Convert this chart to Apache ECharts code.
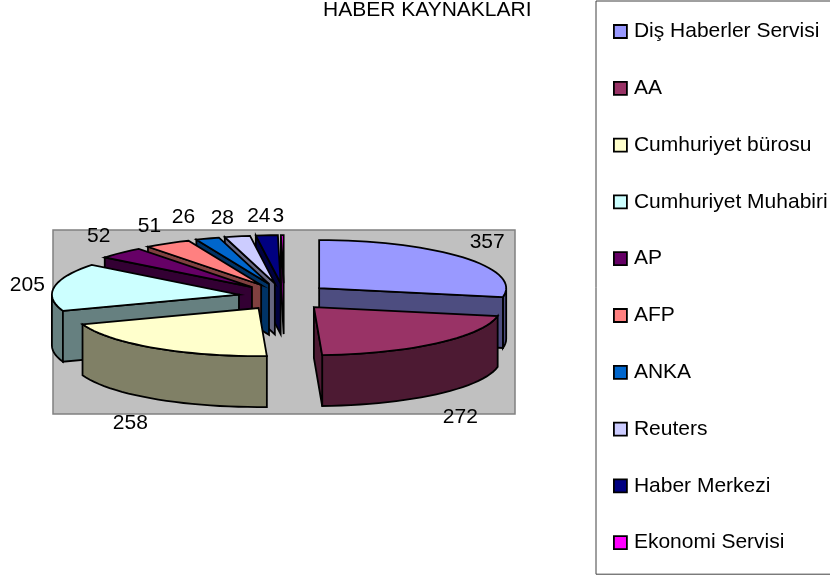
<!DOCTYPE html>
<html>
<head>
<meta charset="utf-8">
<style>html,body{margin:0;padding:0;background:#fff}#c{width:830px;height:576px}</style>
<script src="https://cdn.jsdelivr.net/npm/echarts@6/dist/echarts.min.js"></script>
</head>
<body>
<div id="c"></div>
<script>
const titleText = 'HABER KAYNAKLARI';
const categories = ['Diş Haberler Servisi','AA','Cumhuriyet bürosu','Cumhuriyet Muhabiri','AP','AFP','ANKA','Reuters','Haber Merkezi','Ekonomi Servisi'];
const values = [357,272,258,205,52,51,26,28,24,3];
const topColors = ['#9999ff','#993366','#ffffcc','#ccffff','#660066','#ff8080','#0066cc','#ccccff','#000080','#ff00ff'];
const sideColors = ['#4d4d80','#4d1a33','#808066','#668080','#330033','#804040','#003366','#666680','#000040','#800080'];
const drawOrder = [9,8,7,6,5,4,3,2,0,1];
// label offsets in pixels from the slice's rim point
const labelNudge = [[24,-15],[24,23],[-24,24],[-27,-2],[-22,-17],[-18,-17],[-24,-21],[-15,-18],[-8,-19],[-4,-19]];

const DEPTH = 1.06, EX = 0.244, EY = 0.283, FONT = '21px "Liberation Sans", Arial, sans-serif';
const total = values.reduce((a,b)=>a+b,0);
const rad = d => d*Math.PI/180;
const starts = []; let acc = 0;
values.forEach(v => { starts.push(acc/total*360); acc += v; });

function sliceRender(idx){
  return function(params, api){
    const a0 = starts[idx], a1 = a0 + values[idx]/total*360, mid = (a0+a1)/2;
    const ox = EX*Math.sin(rad(mid)), oy = EY*Math.cos(rad(mid));
    const P = (deg,r,dz) => api.coord([ox + r*Math.sin(rad(deg)), oy + r*Math.cos(rad(deg)) - dz]);
    const lineStyle = {stroke:'#000', lineWidth:1.8};
    const poly = (pts,fill) => ({type:'polygon', shape:{points:pts}, style:Object.assign({fill}, lineStyle)});
    const children = [];
    const rimAngles = (s,e) => { const out=[]; const n=Math.max(1,Math.ceil((e-s)/3)); for(let i=0;i<=n;i++) out.push(s+(e-s)*i/n); return out; };
    const ws = Math.max(a0,90), we = Math.min(a1,270);
    if (we > ws) {
      const arc = rimAngles(ws,we);
      children.push(poly(arc.map(d=>P(d,1,0)).concat(arc.slice().reverse().map(d=>P(d,1,DEPTH))), sideColors[idx]));
    }
    if (a0 > 180) children.push(poly([P(a0,0,0),P(a0,1,0),P(a0,1,DEPTH),P(a0,0,DEPTH)], sideColors[idx]));
    if (a1 < 180) children.push(poly([P(a1,0,0),P(a1,1,0),P(a1,1,DEPTH),P(a1,0,DEPTH)], sideColors[idx]));
    children.push(poly([P(a0,0,0)].concat(rimAngles(a0,a1).map(d=>P(d,1,0))), topColors[idx]));
    const isFront = mid > 90 && mid < 270;
    const anchor = P(mid,1,isFront?DEPTH:0);
    children.push({type:'text', z2:100, style:{text:String(values[idx]), x:anchor[0]+labelNudge[idx][0], y:anchor[1]+labelNudge[idx][1], fill:'#000', font:FONT, align:'center', verticalAlign:'middle'}});
    return {type:'group', children};
  };
}

const chart = echarts.init(document.getElementById('c'), null, {renderer:'canvas'});
chart.setOption({
  animation:false,
  backgroundColor:'#fff',
  title:{text:titleText, left:323, top:0, padding:0, textStyle:{fontFamily:'Liberation Sans', fontSize:21, fontWeight:'normal', color:'#000'}},
  grid:{left:53, top:230, width:462, height:184, show:true, backgroundColor:'#c0c0c0', borderColor:'#808080', borderWidth:1.5},
  xAxis:{type:'value', min:-1.235, max:1.235, show:false},
  yAxis:{type:'value', min:-2.44, max:1.39, show:false},
  legend:{
    data:categories, orient:'vertical', left:596, top:1,
    padding:[20,30,21,17], itemGap:35.8, itemWidth:13, itemHeight:13, icon:'rect',
    backgroundColor:'#fff', borderColor:'#404040', borderWidth:1, borderRadius:0, selectedMode:false,
    itemStyle:{borderColor:'#000', borderWidth:1.8},
    textStyle:{fontFamily:'Liberation Sans', fontSize:21, color:'#000', padding:[0,0,0,2]}
  },
  series: drawOrder.map(i => ({
    type:'custom', name:categories[i], coordinateSystem:'cartesian2d',
    itemStyle:{color:topColors[i]}, silent:true,
    data:[[0,values[i]]], renderItem:sliceRender(i)
  }))
});
</script>
</body>
</html>
